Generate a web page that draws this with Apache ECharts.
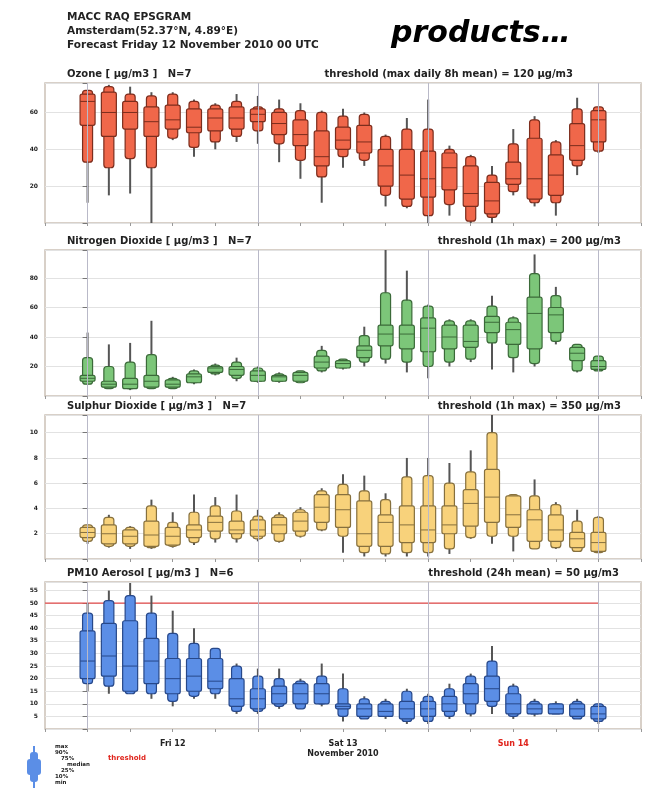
<!DOCTYPE html>
<html>
<head>
<meta charset="utf-8">
<script src="https://cdn.jsdelivr.net/npm/echarts@6/dist/echarts.min.js"></script>
<style>
html, body { margin: 0; padding: 0; background: #fff; }
#main { width: 646px; height: 793px; }
</style>
</head>
<body>
<div id="main"></div>
<script>
// forecast steps (hours from Fri 12 Nov 2010 00 UTC)
var hours = [0, 3, 6, 9, 12, 15, 18, 21, 24, 27, 30, 33, 36, 39, 42, 45, 48, 51, 54, 57, 60, 63, 66, 69, 72];
var dayStarts = [0, 24, 48, 72];
var dayLabels = { 12: 'Fri 12', 36: 'Sat 13', 60: 'Sun 14' };

// each row: [min, p10, p25, median, p75, p90, max]
var ozone = [
    [11, 33, 53, 66, 70, 72, 72], [15, 30, 47, 60, 71, 74, 75], [16, 35, 51, 60, 66, 70, 74],
    [0, 30, 47, 55, 63, 69, 71], [45, 46, 51, 56, 64, 70, 71], [36, 41, 49, 52, 62, 66, 67],
    [40, 44, 50, 57, 62, 64, 65], [44, 47, 51, 57, 63, 66, 70], [43, 50, 55, 59, 62, 63, 69],
    [33, 43, 48, 54, 60, 62, 67], [24, 34, 42, 48, 56, 61, 65], [11, 25, 31, 36, 50, 60, 61],
    [30, 36, 40, 45, 52, 58, 62], [31, 34, 38, 44, 53, 59, 60], [9, 15, 20, 31, 40, 47, 48],
    [8, 9, 13, 26, 40, 51, 57], [0, 4, 14, 24, 39, 51, 67], [4, 10, 18, 30, 38, 40, 42],
    [0, 1, 9, 16, 31, 36, 37], [0, 3, 5, 12, 22, 26, 31], [15, 17, 21, 24, 33, 43, 51],
    [9, 11, 13, 24, 46, 56, 58], [4, 11, 15, 26, 37, 44, 45], [26, 31, 34, 42, 54, 62, 68],
    [38, 39, 44, 56, 61, 63, 63]
];
var no2 = [
    [8, 8, 10, 12, 14, 26, 43], [5, 5, 6, 8, 10, 20, 35], [4, 5, 5, 8, 12, 23, 36],
    [5, 5, 6, 10, 14, 28, 51], [5, 5, 6, 8, 11, 12, 13], [8, 9, 9, 13, 15, 17, 18],
    [14, 15, 16, 19, 20, 21, 22], [10, 12, 14, 18, 20, 23, 26], [9, 10, 10, 14, 17, 19, 20],
    [9, 10, 10, 13, 14, 15, 16], [9, 9, 10, 14, 16, 17, 17], [16, 17, 19, 23, 27, 31, 34],
    [18, 19, 19, 22, 24, 25, 25], [20, 23, 26, 31, 34, 41, 47], [22, 25, 34, 42, 48, 70, 99],
    [16, 23, 32, 42, 48, 65, 85], [12, 20, 30, 46, 53, 61, 62], [20, 23, 32, 40, 48, 51, 52],
    [23, 25, 33, 37, 48, 51, 52], [18, 36, 43, 50, 54, 61, 68], [16, 26, 35, 45, 50, 53, 54],
    [20, 22, 32, 56, 67, 83, 96], [35, 37, 43, 55, 60, 68, 74], [16, 17, 24, 29, 33, 35, 35],
    [17, 17, 18, 20, 24, 27, 27]
];
var so2 = [
    [1.2, 1.4, 1.7, 2.1, 2.5, 2.7, 2.7], [0.9, 1.0, 1.2, 2.0, 2.7, 3.3, 3.5], [0.8, 1.0, 1.2, 1.8, 2.3, 2.5, 2.6],
    [0.8, 0.9, 1.0, 1.9, 3.0, 4.2, 4.7], [0.9, 1.0, 1.1, 1.8, 2.5, 2.9, 3.7], [1.1, 1.3, 1.7, 2.3, 2.7, 3.7, 5.1],
    [1.3, 1.6, 2.2, 2.9, 3.4, 4.2, 4.9], [1.3, 1.6, 2.0, 2.3, 3.0, 3.8, 5.1], [1.4, 1.6, 1.8, 2.3, 3.1, 3.4, 3.9],
    [1.3, 1.4, 2.0, 2.7, 3.3, 3.5, 3.7], [1.7, 1.8, 2.2, 3.0, 3.7, 3.9, 4.1], [2.2, 2.3, 2.9, 4.1, 5.1, 5.4, 5.6],
    [0.5, 1.8, 2.5, 3.9, 5.1, 5.9, 6.7], [0.2, 0.5, 1.0, 2.0, 4.6, 5.4, 6.6], [0.2, 0.4, 1.0, 2.9, 3.5, 4.7, 5.2],
    [0.2, 0.5, 1.3, 2.7, 4.2, 6.5, 8.0], [0.2, 0.5, 1.3, 2.3, 4.2, 6.6, 8.0], [0.4, 0.8, 2.0, 2.7, 4.2, 6.0, 7.6],
    [1.6, 1.7, 2.6, 4.4, 5.5, 6.9, 8.6], [1.2, 1.8, 2.9, 4.9, 7.1, 10.0, 11.6], [0.6, 1.8, 2.5, 3.5, 5.0, 5.1, 5.1],
    [0.8, 0.8, 1.4, 3.1, 3.9, 5.0, 6.3], [0.8, 0.9, 1.4, 2.3, 3.5, 4.3, 4.5], [0.6, 0.6, 0.9, 1.6, 2.1, 3.0, 3.9],
    [0.5, 0.5, 0.6, 1.3, 2.1, 3.3, 3.4]
];
var pm10 = [
    [15, 18, 20, 27, 39, 46, 50], [14, 17, 21, 29, 42, 51, 55], [14, 14, 15, 25, 43, 53, 58],
    [12, 14, 18, 27, 36, 46, 53], [9, 11, 14, 20, 28, 38, 47], [12, 13, 15, 21, 28, 34, 40],
    [12, 14, 16, 19, 28, 32, 32], [6, 7, 9, 12, 20, 25, 26], [6, 7, 8, 12, 16, 21, 24],
    [8, 9, 10, 14, 17, 20, 24], [8, 8, 10, 14, 18, 19, 20], [9, 10, 10, 14, 18, 21, 26],
    [3, 5, 8, 9, 10, 16, 22], [4, 4, 5, 8, 10, 12, 13], [4, 5, 5, 7, 10, 11, 12],
    [2, 3, 4, 8, 11, 15, 16], [2, 3, 5, 8, 11, 13, 14], [4, 5, 7, 10, 13, 16, 18],
    [5, 6, 10, 14, 18, 21, 22], [6, 9, 11, 16, 21, 27, 33], [4, 5, 6, 10, 14, 17, 18],
    [5, 6, 6, 8, 10, 11, 12], [6, 6, 6, 8, 10, 10, 11], [4, 4, 5, 8, 10, 11, 12],
    [2, 3, 4, 6, 9, 10, 10]
];

var ozoneTicks = [20, 40, 60];
var no2Ticks = [20, 40, 60, 80];
var so2Ticks = [2, 4, 6, 8, 10];
var pm10Ticks = [5, 10, 15, 20, 25, 30, 35, 40, 45, 50, 55];
var pm10Threshold = 50;
var thresholdSpan = [-6, 72];

var panels = [
    { title: 'Ozone [ µg/m3 ]   N=7', thr: 'threshold (max daily 8h mean) = 120 µg/m3', thrRight: 68,
      data: ozone, ticks: ozoneTicks, min: 0, max: 76, interval: 20,
      fill: '#f0674a', stroke: '#7c2d1d', top: 83, height: 140 },
    { title: 'Nitrogen Dioxide [ µg/m3 ]   N=7', thr: 'threshold (1h max) = 200 µg/m3', thrRight: 20,
      data: no2, ticks: no2Ticks, min: 0, max: 99, interval: 20,
      fill: '#7cc679', stroke: '#3b6a39', top: 250, height: 146 },
    { title: 'Sulphur Dioxide [ µg/m3 ]   N=7', thr: 'threshold (1h max) = 350 µg/m3', thrRight: 20,
      data: so2, ticks: so2Ticks, min: 0, max: 11.4, interval: 2,
      fill: '#f8d27b', stroke: '#86703e', top: 415, height: 144 },
    { title: 'PM10 Aerosol [ µg/m3 ]   N=6', thr: 'threshold (24h mean) = 50 µg/m3', thrRight: 22,
      data: pm10, ticks: pm10Ticks, min: 0, max: 58.4, interval: 5,
      fill: '#5b8ee6', stroke: '#27488a', top: 582, height: 147, threshold: pm10Threshold }
];

function boxRender(fill, stroke) {
    return function (params, api) {
        var t = api.value(0);
        var x = api.coord([t, api.value(1)])[0];
        var y = [];
        for (var i = 1; i <= 7; i++) y.push(api.coord([t, api.value(i)])[1]);
        var wn = 10, ww = 15;
        return {
            type: 'group',
            children: [
                { type: 'line', shape: { x1: x, y1: y[0], x2: x, y2: y[6] },
                  style: { stroke: '#555', lineWidth: 2 } },
                { type: 'rect', shape: { x: x - wn / 2, y: y[5], width: wn, height: y[1] - y[5], r: 3 },
                  style: { fill: fill, stroke: stroke, lineWidth: 1.2 } },
                { type: 'rect', shape: { x: x - ww / 2, y: y[4], width: ww, height: y[2] - y[4], r: 2 },
                  style: { fill: fill, stroke: stroke, lineWidth: 1.2 } },
                { type: 'line', shape: { x1: x - ww / 2, y1: y[3], x2: x + ww / 2, y2: y[3] },
                  style: { stroke: stroke, lineWidth: 1 } }
            ]
        };
    };
}

var chart = echarts.init(document.getElementById('main'));
var font = 'DejaVu Sans';
var titles = [
    { text: 'MACC RAQ EPSGRAM\nAmsterdam(52.37°N, 4.89°E)\nForecast Friday 12 November 2010 00 UTC',
      left: 62, top: 5,
      textStyle: { fontSize: 10.5, lineHeight: 14, fontWeight: 'bold', color: '#222', fontFamily: font } },
    { text: 'products…', left: 386, top: 14,
      textStyle: { fontSize: 30, fontWeight: 'bold', fontStyle: 'italic', color: '#000', fontFamily: 'DejaVu Sans' } }
];
var grids = [], xAxes = [], yAxes = [], series = [];

panels.forEach(function (p, k) {
    titles.push({ text: p.title, left: 62, top: p.top - 19,
        textStyle: { fontSize: 10, fontWeight: 'bold', color: '#222', fontFamily: font } });
    titles.push({ text: p.thr, right: p.thrRight, top: p.top - 19,
        textStyle: { fontSize: 10, fontWeight: 'bold', color: '#222', fontFamily: font } });
    grids.push({ left: 45, right: 5, top: p.top, height: p.height, show: true,
        borderColor: '#cbc1b6', borderWidth: 1.5, backgroundColor: '#fff' });
    var last = k === panels.length - 1;
    xAxes.push({
        type: 'value', gridIndex: k, min: -6, max: 78, interval: 6,
        axisLine: { show: false },
        axisTick: { show: true, length: 3, lineStyle: { color: '#999' } },
        splitLine: { show: false },
        axisLabel: {
            show: last, margin: 10, fontSize: 8, fontWeight: 'bold', color: '#222', fontFamily: font,
            lineHeight: 10, interval: 0,
            formatter: function (v) {
                if (!dayLabels[v]) return '';
                if (v === 60) return '{r|' + dayLabels[v] + '}';
                if (v === 36) return dayLabels[v] + '\nNovember 2010';
                return dayLabels[v];
            },
            rich: { r: { color: '#e0241c', fontSize: 8, fontWeight: 'bold', fontFamily: font } }
        }
    });
    yAxes.push({
        type: 'value', gridIndex: k, min: p.min, max: p.max, interval: p.interval,
        axisLine: { show: false },
        axisTick: { show: true, length: 5, lineStyle: { color: '#777' } },
        splitLine: { show: true, lineStyle: { color: '#e2e2e2', width: 1 } },
        axisLabel: {
            margin: 7, fontSize: 6, fontWeight: 'bold', color: '#222', fontFamily: font,
            showMinLabel: true, showMaxLabel: true,
            formatter: function (v) { return p.ticks.indexOf(v) >= 0 ? String(v) : ''; }
        }
    });
    series.push({
        type: 'custom', xAxisIndex: k, yAxisIndex: k, clip: true,
        renderItem: boxRender(p.fill, p.stroke),
        encode: { x: 0, y: [1, 2, 3, 4, 5, 6, 7] },
        data: hours.map(function (h, i) { return [h].concat(p.data[i]); }),
        markLine: {
            silent: true, symbol: 'none', label: { show: false }, animation: false,
            lineStyle: { color: '#b9b9c8', width: 1, type: 'solid' },
            data: dayStarts.map(function (d) { return { xAxis: d }; })
        },
        z: 3
    });
    if (p.threshold !== undefined) {
        series.push({
            type: 'line', xAxisIndex: k, yAxisIndex: k, z: 2, silent: true,
            symbol: 'none', color: '#e24a4a',
            lineStyle: { color: '#e24a4a', width: 1.2 },
            data: thresholdSpan.map(function (t) { return [t, p.threshold]; })
        });
    }
});

var legendLabels = ['max', '90%', '75%', 'median', '25%', '10%', 'min'];
var graphics = [
    { type: 'line', shape: { x1: 34, y1: 746, x2: 34, y2: 788 }, style: { stroke: '#5b8ee6', lineWidth: 2 } },
    { type: 'rect', shape: { x: 30, y: 752, width: 8, height: 30, r: 3 }, style: { fill: '#5b8ee6' } },
    { type: 'rect', shape: { x: 27, y: 759, width: 14, height: 16, r: 3 }, style: { fill: '#5b8ee6' } },
    { type: 'text', left: 108, top: 755, style: { text: 'threshold', fill: '#e0241c', fontSize: 7, fontWeight: 'bold', fontFamily: font } }
];
legendLabels.forEach(function (l, i) {
    graphics.push({ type: 'text', left: 55 + (i === 3 ? 12 : (i === 2 || i === 4 ? 6 : 0)), top: 744 + i * 6,
        style: { text: l, fill: '#222', fontSize: 5.5, fontWeight: 'bold', fontFamily: font } });
});

chart.setOption({
    animation: false,
    title: titles,
    grid: grids,
    xAxis: xAxes,
    yAxis: yAxes,
    series: series,
    graphic: graphics
});
</script>
</body>
</html>
